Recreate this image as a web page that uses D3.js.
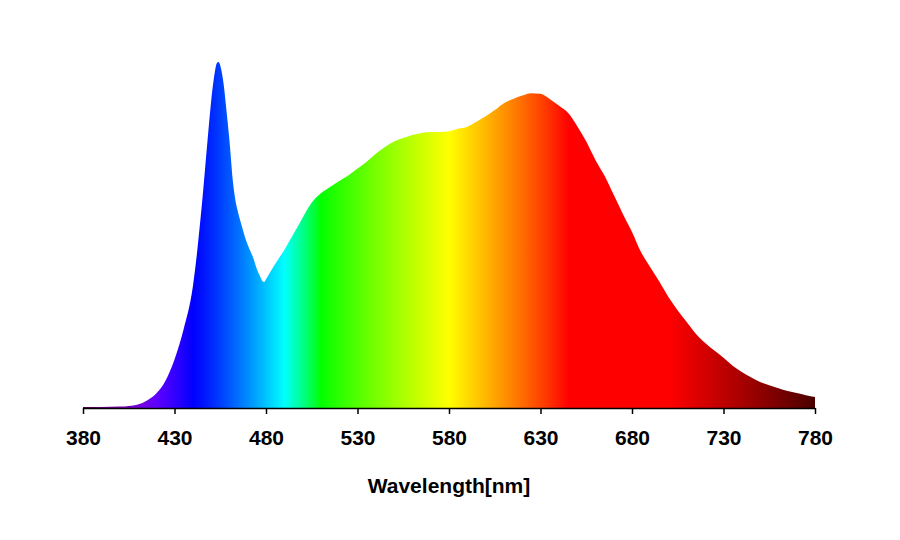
<!DOCTYPE html>
<html>
<head>
<meta charset="utf-8">
<script src="https://cdn.jsdelivr.net/npm/d3@7"></script>
<style>
  html, body { margin: 0; padding: 0; background: #ffffff; }
  svg { display: block; }
</style>
</head>
<body>
<svg id="chart" width="900" height="540"></svg>
<script>
// ---- data (relative spectral intensity) ----
const wavelengths = [
  380, 390, 400, 405, 410, 415, 420, 425, 430, 435, 440, 445, 448, 450, 452, 453, 454, 455, 456, 457, 458, 460,
  462, 463, 465, 467, 468, 470, 473, 475, 477, 478, 479, 480, 482, 485, 490, 495, 500, 503, 505, 510,
  515, 520, 525, 530, 535, 540, 545, 550, 555, 560, 565, 570, 575, 580, 585, 590, 595, 600, 605, 610,
  615, 620, 625, 630, 635, 640, 645, 650, 655, 660, 665, 670, 675, 680, 685, 690, 695, 700, 705, 710,
  715, 720, 725, 730, 735, 740, 745, 750, 755, 760, 765, 770, 775, 780
];
const intensity = [
  0.003, 0.003, 0.004, 0.006, 0.010, 0.022, 0.042, 0.078, 0.140, 0.228, 0.350, 0.590, 0.770, 0.885, 0.970, 0.995, 1.000, 0.990, 0.965, 0.930, 0.880, 0.775,
  0.650, 0.610, 0.560, 0.522, 0.503, 0.472, 0.434, 0.402, 0.378, 0.367, 0.364, 0.372, 0.390, 0.416, 0.457, 0.503, 0.550, 0.578, 0.594, 0.621,
  0.639, 0.656, 0.672, 0.692, 0.712, 0.735, 0.754, 0.770, 0.780, 0.789, 0.795, 0.798, 0.798, 0.800, 0.807, 0.813, 0.827, 0.843, 0.861, 0.881,
  0.893, 0.903, 0.910, 0.908, 0.893, 0.874, 0.853, 0.815, 0.770, 0.717, 0.671, 0.616, 0.561, 0.509, 0.450, 0.407, 0.365, 0.320, 0.282, 0.248,
  0.214, 0.188, 0.166, 0.145, 0.122, 0.104, 0.089, 0.075, 0.066, 0.057, 0.049, 0.043, 0.037, 0.032
];
const tickValues = [380, 430, 480, 530, 580, 630, 680, 730, 780];
const xTitle = "Wavelength[nm]";

const data = wavelengths.map((w, i) => ({ w: w, v: intensity[i] }));

// ---- wavelength to colour (visible spectrum approximation) ----
function spectralColor(w) {
  let r = 0, g = 0, b = 0;
  if (w < 440) { r = (440 - w) / 60; b = 1; }
  else if (w < 490) { g = Math.pow((w - 440) / 50, 1.3); b = 1; }
  else if (w < 510) { g = 1; b = (510 - w) / 20; }
  else if (w < 580) { r = (w - 510) / 70; g = 1; }
  else if (w < 645) { r = 1; g = (645 - w) / 65; }
  else { r = 1; }
  let f = 1;
  if (w < 420) f = 0.3 + 0.7 * (w - 380) / 40;
  else if (w > 700) f = 0.25 + 0.75 * (780 - w) / 80;
  const c = x => Math.round(255 * Math.pow(x * f, 0.9));
  return `rgb(${c(r)},${c(g)},${c(b)})`;
}

// ---- layout ----
const svg = d3.select("#chart");
const x = d3.scaleLinear().domain([380, 780]).range([83, 815]);
const y = d3.scaleLinear().domain([0, 1]).range([408, 62]);

const defs = svg.append("defs");
const grad = defs.append("linearGradient")
  .attr("id", "spec")
  .attr("gradientUnits", "userSpaceOnUse")
  .attr("x1", x(380)).attr("x2", x(780))
  .attr("y1", 0).attr("y2", 0);
for (let w = 380; w <= 780; w += 2) {
  grad.append("stop")
    .attr("offset", ((w - 380) / 400 * 100) + "%")
    .attr("stop-color", spectralColor(w));
}

const area = d3.area()
  .x(d => x(d.w))
  .y0(y(0))
  .y1(d => y(d.v))
  .curve(d3.curveMonotoneX);

svg.append("path")
  .datum(data)
  .attr("d", area)
  .attr("fill", "url(#spec)");

// ---- axis ----
const axis = d3.axisBottom(x)
  .tickValues(tickValues)
  .tickFormat(d3.format("d"))
  .tickSizeInner(6)
  .tickSizeOuter(0)
  .tickPadding(16);

const gx = svg.append("g")
  .attr("transform", `translate(0,${y(0)})`)
  .call(axis);
gx.select(".domain").attr("stroke", "#000").attr("stroke-width", 1.5);
gx.selectAll(".tick line").attr("stroke", "#000").attr("stroke-width", 1.5);
gx.selectAll(".tick text")
  .attr("fill", "#000")
  .style("font-family", "'Liberation Sans', Arial, sans-serif")
  .style("font-weight", "bold")
  .style("font-size", "21px");

svg.append("text")
  .attr("x", (x(380) + x(780)) / 2)
  .attr("y", 493)
  .attr("text-anchor", "middle")
  .style("font-family", "'Liberation Sans', Arial, sans-serif")
  .style("font-weight", "bold")
  .style("font-size", "21px")
  .attr("fill", "#000")
  .text(xTitle);
</script>
</body>
</html>
